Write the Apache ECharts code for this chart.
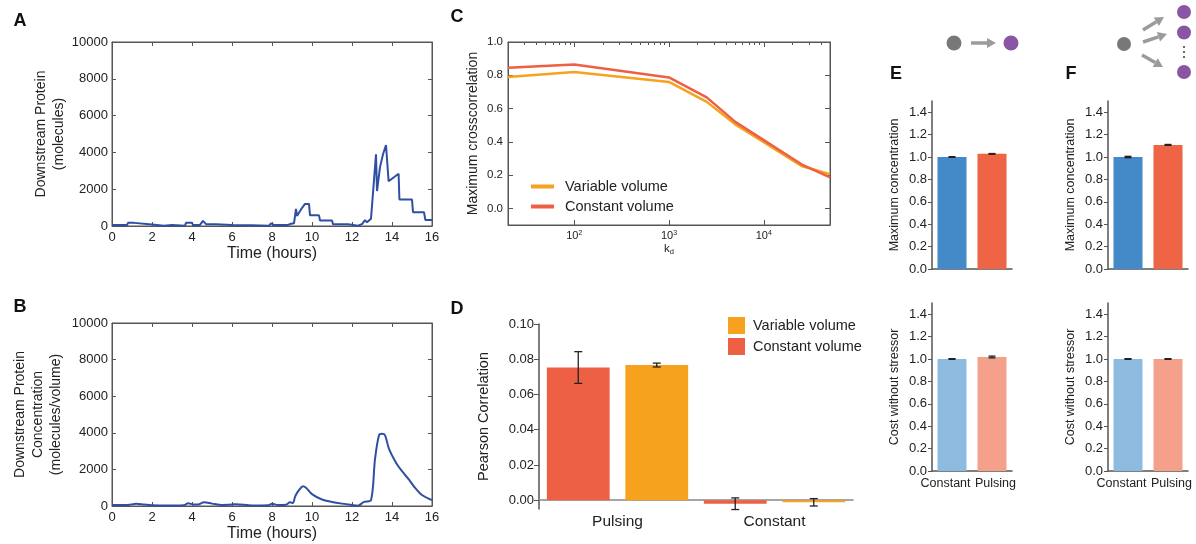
<!DOCTYPE html>
<html>
<head>
<meta charset="utf-8">
<title>Pulsing figure</title>
<style>
  html, body { margin: 0; padding: 0; background: #fff; }
  #chart { width: 1196px; height: 544px; }
</style>
<script src="https://cdn.jsdelivr.net/npm/echarts@6/dist/echarts.min.js"></script>
</head>
<body>
<div id="chart"></div>
<script>
// ---- data ----
// A: downstream protein (molecules) vs time (hours)
const aTime = [0, 0.75, 0.8, 1.1, 1.2, 2.0, 2.05, 2.6, 2.65, 3.0, 3.05, 3.65, 3.7, 4.0, 4.05, 4.4, 4.55, 4.7, 5.2, 5.25,
  6.0, 6.05, 7.0, 7.05, 7.85, 7.95, 8.1, 8.8, 8.95, 9.1, 9.2, 9.25, 9.45, 9.65, 9.85, 9.9, 10.35, 10.4, 11.0, 11.05,
  11.8, 11.85, 12.3, 12.5, 12.65, 12.75, 12.95, 13.0, 13.2, 13.25, 13.4, 13.55, 13.7, 13.8, 13.83, 14.33, 14.37, 15.0,
  15.05, 15.6, 15.67, 16];
const aMolecules = [50, 50, 170, 170, 80, 80, 20, 20, 60, 60, 20, 20, 170, 170, 60, 60, 280, 100, 100, 60,
  60, 40, 40, 20, 20, 140, 60, 60, 120, 150, 930, 550, 900, 1200, 1200, 580, 580, 300, 300, 100,
  100, 20, 20, 100, 320, 200, 400, 400, 3900, 1900, 3200, 3900, 4400, 4500, 2430, 2840, 1440, 1440,
  750, 750, 320, 320];
// B: downstream protein concentration vs time
const bTime = [0, 0.8, 1.2, 1.6, 2, 3, 3.6, 3.8, 4.1, 4.3, 4.6, 5, 5.5, 6, 6.2, 7, 7.8, 8, 8.3, 8.7,
  8.9, 9.05, 9.15, 9.3, 9.45, 9.55, 9.7, 10, 10.5, 11, 11.5, 12, 12.3, 12.6, 12.95, 13.15, 13.35, 13.5, 13.65, 13.85,
  14.2, 14.5, 14.85, 15.1, 15.5, 16];
const bConcentration = [50, 60, 120, 80, 40, 30, 40, 150, 80, 80, 200, 130, 60, 80, 100, 30, 40, 120, 60, 70,
  200, 170, 500, 800, 1000, 1080, 1000, 650, 355, 224, 130, 56, 20, 224, 318, 2560, 3870, 3950, 3870, 3120,
  2370, 1900, 1440, 1065, 600, 318];
// C: maximum crosscorrelation vs kd
const kdValues = [20, 100, 1000, 2500, 5000, 10000, 25000, 50000];
const crossVariable = [0.79, 0.82, 0.76, 0.64, 0.505, 0.398, 0.255, 0.205];
const crossConstant = [0.845, 0.865, 0.787, 0.667, 0.52, 0.41, 0.265, 0.186];
// D: pearson correlation
const pearsonCategories = ['Pulsing', 'Constant'];
const pearsonConstant = [0.0753, -0.002];
const pearsonConstantErr = [0.009, 0.0033];
const pearsonVariable = [0.0767, -0.0012];
const pearsonVariableErr = [0.0011, 0.0021];
// E / F
const stressCategories = ['Constant', 'Pulsing'];
const eMaxConc = [1.0, 1.028];
const eMaxConcErr = [0.003, 0.003];
const eCost = [1.0, 1.018];
const eCostErr = [0.003, 0.008];
const fMaxConc = [1.0, 1.108];
const fMaxConcErr = [0.006, 0.004];
const fCost = [1.0, 1.0];
const fCostErr = [0.003, 0.003];
// tick labels
const crossTicks = [0, 0.2, 0.4, 0.6, 0.8, 1.0];
const pearsonTicks = [0, 0.02, 0.04, 0.06, 0.08, 0.1];
const ratioTicks = [0, 0.2, 0.4, 0.6, 0.8, 1.0, 1.2, 1.4];

const FONT = 'Liberation Sans';
const TXT = '#222';
const AX = '#555';
const BLUE_LINE = '#2f4fa3';
const ORANGE = '#f6a21e';
const RED = '#ee6043';
const BLUE = '#4489c8';
const RED2 = '#ef6445';
const BLUE_L = '#8fbae0';
const RED_L = '#f4a08b';

const chart = echarts.init(document.getElementById('chart'));

// log10 minor tick positions for panel C
const minorKd = [];
for (let e = 1; e <= 4; e++) {
  for (let m = 2; m <= 9; m++) {
    const v = m * Math.pow(10, e);
    if (v > 20 && v < 50000) minorKd.push(Math.log10(v));
  }
}

function timeAxes(grid) {
  return [
    {
      gridIndex: grid, type: 'value', min: 0, max: 16, interval: 2,
      axisLine: { onZero: false, lineStyle: { color: AX } },
      axisTick: { inside: true, length: 4, lineStyle: { color: AX } },
      axisLabel: { fontSize: 13, color: TXT, margin: 5 },
      splitLine: { show: false },
      name: 'Time (hours)', nameLocation: 'middle', nameGap: 20,
      nameTextStyle: { fontSize: 16, color: TXT }
    },
    {
      gridIndex: grid, type: 'value', min: 0, max: 16, interval: 2, position: 'top',
      axisLine: { onZero: false, lineStyle: { color: AX } },
      axisTick: { inside: true, length: 4, lineStyle: { color: AX } },
      axisLabel: { show: false }, splitLine: { show: false }
    }
  ];
}

function countAxes(grid, name, gap) {
  return [
    {
      gridIndex: grid, type: 'value', min: 0, max: 10000, interval: 2000,
      axisLine: { show: true, onZero: false, lineStyle: { color: AX } },
      axisTick: { show: true, inside: true, length: 4, lineStyle: { color: AX } },
      axisLabel: { fontSize: 13, color: TXT, margin: 4, formatter: v => String(v) },
      splitLine: { show: false },
      name: name, nameLocation: 'middle', nameGap: gap, nameRotate: 90,
      nameTextStyle: { fontSize: 14, color: TXT, lineHeight: 18, align: 'center' }
    },
    {
      gridIndex: grid, type: 'value', min: 0, max: 10000, interval: 2000, position: 'right',
      axisLine: { show: true, onZero: false, lineStyle: { color: AX } },
      axisTick: { show: true, inside: true, length: 4, lineStyle: { color: AX } },
      axisLabel: { show: false }, splitLine: { show: false }
    }
  ];
}

function ratioYAxis(grid, name) {
  return {
    gridIndex: grid, type: 'value', min: 0, max: 1.5,
    axisLine: { show: true, lineStyle: { color: AX, width: 1.5 } },
    axisTick: { show: true, length: 4, customValues: ratioTicks, lineStyle: { color: AX } },
    axisLabel: { fontSize: 13, color: TXT, margin: 5, customValues: ratioTicks, formatter: v => v.toFixed(1) },
    splitLine: { show: false },
    name: name, nameLocation: 'middle', nameGap: 31, nameRotate: 90,
    nameTextStyle: { fontSize: 12.5, color: TXT }
  };
}

function ratioXAxis(grid, labels) {
  return {
    gridIndex: grid, type: 'category',
    data: [
      { value: stressCategories[0], textStyle: { padding: [0, 13, 0, 0] } },
      { value: stressCategories[1], textStyle: { padding: [0, 0, 0, 7] } }
    ],
    axisLine: { lineStyle: { color: AX, width: 1.5 } },
    axisTick: { show: false },
    axisLabel: { show: labels, fontSize: 12.5, color: TXT, margin: 6, interval: 0 }
  };
}

// error bar drawn through the axes of its grid
function errorBars(xi, yi, values, errs, offset, cap) {
  return {
    type: 'custom', xAxisIndex: xi, yAxisIndex: yi, z: 10, silent: true,
    data: values.map((v, i) => [i, v - errs[i], v + errs[i]]),
    renderItem: (params, api) => {
      const band = api.size([1, 0])[0];
      const lo = api.coord([api.value(0), api.value(1)]);
      const hi = api.coord([api.value(0), api.value(2)]);
      const x = lo[0] + offset * band;
      const st = { stroke: '#222', lineWidth: 1.3 };
      return {
        type: 'group', children: [
          { type: 'line', shape: { x1: x, y1: lo[1], x2: x, y2: hi[1] }, style: st },
          { type: 'line', shape: { x1: x - cap, y1: lo[1], x2: x + cap, y2: lo[1] }, style: st },
          { type: 'line', shape: { x1: x - cap, y1: hi[1], x2: x + cap, y2: hi[1] }, style: st }
        ]
      };
    }
  };
}

function ratioBars(xi, yi, values, colors) {
  return {
    type: 'bar', xAxisIndex: xi, yAxisIndex: yi, barCategoryGap: '27.5%',
    data: values.map((v, i) => ({ value: v, itemStyle: { color: colors[i] } }))
  };
}

function arrow(x1, y1, x2, y2) {
  const ang = Math.atan2(y2 - y1, x2 - x1);
  const L = 9, W = 5;
  const bx = x2 - L * Math.cos(ang), by = y2 - L * Math.sin(ang);
  const px = -Math.sin(ang) * W, py = Math.cos(ang) * W;
  return [
    { type: 'line', shape: { x1: x1, y1: y1, x2: bx, y2: by }, style: { stroke: '#9b9b9b', lineWidth: 3.5 } },
    { type: 'polygon', shape: { points: [[x2, y2], [bx + px, by + py], [bx - px, by - py]] }, style: { fill: '#9b9b9b' } }
  ];
}

function letter(t, x, y) {
  return { type: 'text', x: x, y: y, style: { text: t, fontSize: 18, fontWeight: 'bold', fontFamily: FONT, fill: '#111', align: 'center', verticalAlign: 'middle' } };
}

const dot = (x, y, r, c) => ({ type: 'circle', shape: { cx: x, cy: y, r: r }, style: { fill: c } });
const GRAY = '#77787a', PURPLE = '#8a55a5';

const option = {
  animation: false,
  textStyle: { fontFamily: FONT },
  grid: [
    { left: 112, top: 42, width: 320, height: 184, show: true, borderColor: AX, borderWidth: 1 },
    { left: 112, top: 323, width: 320, height: 183, show: true, borderColor: AX, borderWidth: 1 },
    { left: 508, top: 42, width: 322, height: 183, show: true, borderColor: AX, borderWidth: 1 },
    { left: 539, top: 324, width: 314, height: 185 },
    { left: 932, top: 101, width: 80, height: 168 },
    { left: 932, top: 303, width: 80, height: 168 },
    { left: 1108, top: 101, width: 80, height: 168 },
    { left: 1108, top: 303, width: 80, height: 168 }
  ],
  legend: [
    {
      data: [{ name: 'Variable volume', icon: 'rect' }, { name: 'Constant volume', icon: 'rect' }],
      orient: 'vertical', left: 526, top: 174,
      itemWidth: 23, itemHeight: 4, itemGap: 5, selectedMode: false,
      textStyle: { fontSize: 14.5, color: TXT, padding: [0, 0, 0, 6] }
    },
    {
      data: [{ name: 'Variable volume', icon: 'rect' }, { name: 'Constant volume', icon: 'rect' }],
      orient: 'vertical', left: 723, top: 312, itemWidth: 17, itemHeight: 17, itemGap: 4, selectedMode: false,
      textStyle: { fontSize: 14.5, color: TXT, padding: [0, 0, 0, 3] }
    }
  ],
  xAxis: [
    ...timeAxes(0),
    ...timeAxes(1),
    {
      gridIndex: 2, type: 'log', logBase: 10, min: 20, max: 50000,
      axisLine: { onZero: false, lineStyle: { color: AX } },
      axisTick: { inside: true, length: 5, lineStyle: { color: AX } },
      axisLabel: {
        color: TXT, margin: 5, showMinLabel: false, showMaxLabel: false,
        formatter: v => '{b|10}{s|' + Math.round(Math.log10(v)) + '}',
        rich: { b: { fontSize: 11, color: TXT }, s: { fontSize: 7, color: TXT, verticalAlign: 'top', padding: [0, 0, 5, 0] } }
      },
      splitLine: { show: false }, minorTick: { show: false },
      name: '{b|k}{s|d}', nameLocation: 'middle', nameGap: 17,
      nameTextStyle: { rich: { b: { fontSize: 11.5, color: TXT }, s: { fontSize: 7.5, color: TXT, padding: [6, 0, 0, 0] } } }
    },
    {
      gridIndex: 2, type: 'log', logBase: 10, min: 20, max: 50000, position: 'top',
      axisLine: { onZero: false, lineStyle: { color: AX } },
      axisTick: { inside: true, length: 5, lineStyle: { color: AX } },
      axisLabel: { show: false }, splitLine: { show: false }
    },
    {
      gridIndex: 2, type: 'value', min: Math.log10(20), max: Math.log10(50000),
      axisLine: { show: false, onZero: false },
      axisTick: { inside: true, length: 3, customValues: minorKd, lineStyle: { color: AX } },
      axisLabel: { show: false }, splitLine: { show: false }
    },
    {
      gridIndex: 2, type: 'value', min: Math.log10(20), max: Math.log10(50000), position: 'top',
      axisLine: { show: false, onZero: false },
      axisTick: { inside: true, length: 3, customValues: minorKd, lineStyle: { color: AX } },
      axisLabel: { show: false }, splitLine: { show: false }
    },
    {
      gridIndex: 3, type: 'category', data: pearsonCategories,
      axisLine: { onZero: true, lineStyle: { color: '#888', width: 1.5 } },
      axisTick: { show: false },
      axisLabel: { fontSize: 15.5, color: TXT, margin: 5 }
    },
    ratioXAxis(4, false),
    ratioXAxis(5, true),
    ratioXAxis(6, false),
    ratioXAxis(7, true)
  ],
  yAxis: [
    ...countAxes(0, 'Downstream Protein\n(molecules)', 44),
    ...countAxes(1, 'Downstream Protein\nConcentration\n(molecules/volume)', 47),
    {
      gridIndex: 2, type: 'value', min: -0.1, max: 1.0,
      axisLine: { show: true, onZero: false, lineStyle: { color: AX } },
      axisTick: { show: true, inside: true, length: 5, customValues: crossTicks, lineStyle: { color: AX } },
      axisLabel: { fontSize: 11.5, color: TXT, margin: 5, customValues: crossTicks, formatter: v => v.toFixed(1) },
      splitLine: { show: false },
      name: 'Maximum crosscorrelation', nameLocation: 'middle', nameGap: 28, nameRotate: 90,
      nameTextStyle: { fontSize: 14, color: TXT }
    },
    {
      gridIndex: 2, type: 'value', min: -0.1, max: 1.0, position: 'right',
      axisLine: { show: true, onZero: false, lineStyle: { color: AX } },
      axisTick: { show: true, inside: true, length: 5, customValues: crossTicks, lineStyle: { color: AX } },
      axisLabel: { show: false }, splitLine: { show: false }
    },
    {
      gridIndex: 3, type: 'value', min: -0.005, max: 0.1,
      axisLine: { show: true, lineStyle: { color: AX, width: 1.5 } },
      axisTick: { show: true, length: 5, customValues: pearsonTicks, lineStyle: { color: AX } },
      axisLabel: { fontSize: 13, color: TXT, margin: 5, customValues: pearsonTicks, formatter: v => v.toFixed(2) },
      splitLine: { show: false },
      name: 'Pearson Correlation', nameLocation: 'middle', nameGap: 48, nameRotate: 90,
      nameTextStyle: { fontSize: 14.5, color: TXT }
    },
    ratioYAxis(4, 'Maximum concentration'),
    ratioYAxis(5, 'Cost without stressor'),
    ratioYAxis(6, 'Maximum concentration'),
    ratioYAxis(7, 'Cost without stressor')
  ],
  series: [
    {
      type: 'line', xAxisIndex: 0, yAxisIndex: 0, showSymbol: false, symbol: 'none',
      lineStyle: { color: BLUE_LINE, width: 2 },
      data: aTime.map((t, i) => [t, aMolecules[i]])
    },
    {
      type: 'line', xAxisIndex: 2, yAxisIndex: 2, showSymbol: false, symbol: 'none', smooth: 0.3,
      lineStyle: { color: BLUE_LINE, width: 2 },
      data: bTime.map((t, i) => [t, bConcentration[i]])
    },
    {
      name: 'Variable volume', type: 'line', xAxisIndex: 4, yAxisIndex: 4, symbol: 'none',
      color: ORANGE, lineStyle: { color: ORANGE, width: 2.5 },
      data: kdValues.map((k, i) => [k, crossVariable[i]])
    },
    {
      name: 'Constant volume', type: 'line', xAxisIndex: 4, yAxisIndex: 4, symbol: 'none',
      color: RED, lineStyle: { color: RED, width: 2.5 },
      data: kdValues.map((k, i) => [k, crossConstant[i]])
    },
    {
      name: 'Constant volume', type: 'bar', xAxisIndex: 8, yAxisIndex: 6,
      barGap: '25%', barCategoryGap: '10%', itemStyle: { color: RED },
      data: pearsonConstant
    },
    {
      name: 'Variable volume', type: 'bar', xAxisIndex: 8, yAxisIndex: 6,
      barGap: '25%', barCategoryGap: '10%', itemStyle: { color: ORANGE },
      data: pearsonVariable
    },
    errorBars(8, 6, pearsonConstant, pearsonConstantErr, -0.25, 4),
    errorBars(8, 6, pearsonVariable, pearsonVariableErr, 0.25, 4),
    ratioBars(9, 7, eMaxConc, [BLUE, RED2]),
    ratioBars(10, 8, eCost, [BLUE_L, RED_L]),
    ratioBars(11, 9, fMaxConc, [BLUE, RED2]),
    ratioBars(12, 10, fCost, [BLUE_L, RED_L]),
    errorBars(9, 7, eMaxConc, eMaxConcErr, 0, 3.5),
    errorBars(10, 8, eCost, eCostErr, 0, 3.5),
    errorBars(11, 9, fMaxConc, fMaxConcErr, 0, 3.5),
    errorBars(12, 10, fCost, fCostErr, 0, 3.5)
  ],
  graphic: [
    letter('A', 20, 21),
    letter('B', 20, 307),
    letter('C', 457, 17),
    letter('D', 457, 309),
    letter('E', 896, 74),
    letter('F', 1071, 74),
    dot(954, 43, 7.5, GRAY),
    ...arrow(971, 43, 996, 43),
    dot(1011, 43, 7.5, PURPLE),
    dot(1124, 44, 7, GRAY),
    ...arrow(1143, 30, 1164, 17),
    ...arrow(1143, 42, 1167, 34),
    ...arrow(1142, 55, 1163, 67),
    dot(1184, 12, 7, PURPLE),
    dot(1184, 32.5, 7, PURPLE),
    dot(1184, 72, 7, PURPLE),
    dot(1184, 47, 1, '#333'),
    dot(1184, 52, 1, '#333'),
    dot(1184, 57, 1, '#333')
  ]
};

chart.setOption(option);
</script>
</body>
</html>
